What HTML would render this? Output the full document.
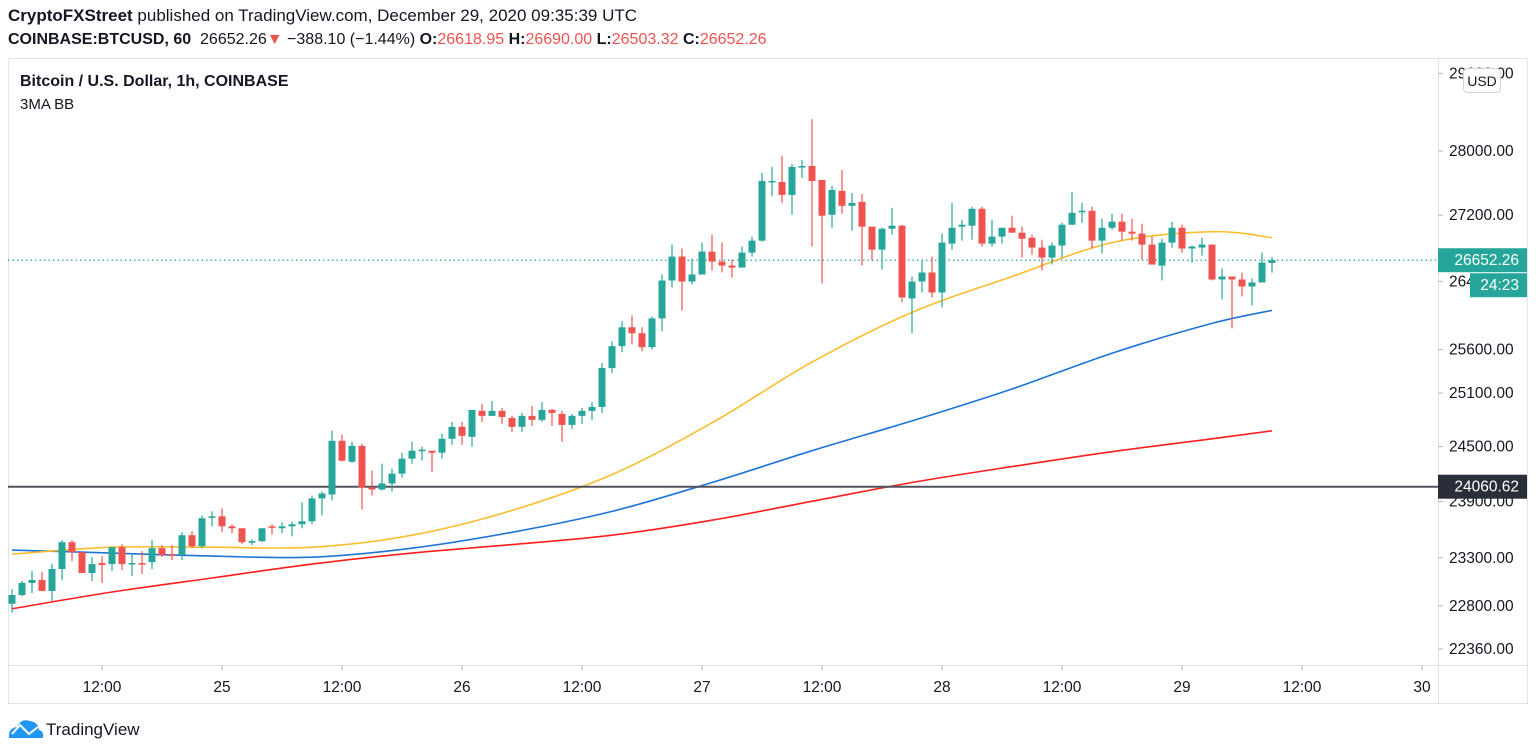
<!DOCTYPE html>
<html><head><meta charset="utf-8"><style>
html,body{margin:0;padding:0;background:#fff;width:1536px;height:753px;overflow:hidden;font-family:"Liberation Sans",sans-serif;}
.hdr{position:absolute;left:8px;color:#131722;white-space:nowrap;}
.red{color:#ef5350}
svg{position:absolute;left:0;top:0}
</style></head><body>
<div class="hdr" style="top:6px;font-size:17px"><b>CryptoFXStreet</b> published on TradingView.com, December 29, 2020 09:35:39 UTC</div>
<div class="hdr" style="top:31px;font-size:16px"><b>COINBASE:BTCUSD, 60</b>&nbsp; 26652.26<span class="red">▼</span> −388.10 (−1.44%) <b>O:</b><span class="red">26618.95</span> <b>H:</b><span class="red">26690.00</span> <b>L:</b><span class="red">26503.32</span> <b>C:</b><span class="red">26652.26</span></div>
<svg id="chart" width="1536" height="753" xmlns="http://www.w3.org/2000/svg"></svg>
<script>
const opens=[22821,22912,23037,23068,22954,23183,23465,23360,23141,23245,23234,23412,23234,23245,23255,23402,23339,23329,23539,23423,23730,23741,23634,23613,23465,23476,23634,23613,23634,23656,23688,23934,23976,24565,24334,24509,24053,24030,24096,24203,24367,24455,24455,24433,24587,24720,24609,24899,24843,24899,24820,24720,24843,24798,24910,24865,24742,24843,24899,24943,25385,25638,25857,25788,25626,25961,26409,26696,26397,26481,26756,26636,26588,26564,26744,26889,27611,27611,27450,27799,27811,27636,27205,27500,27315,27364,27059,26780,27034,27071,26196,26397,26505,26267,26853,27059,27071,27279,26853,26938,27046,26986,26924,26805,26684,26829,27083,27242,27254,26889,27046,27120,26998,26974,26841,26588,26865,27046,26793,26805,26841,26421,26457,26421,26338,26386,26618.95];
const highs=[22975,23058,23162,23151,23234,23486,23486,23360,23307,23318,23412,23444,23350,23371,23486,23433,23433,23570,23581,23751,23794,23826,23656,23613,23497,23613,23656,23677,23688,23891,23965,24009,24676,24631,24554,24532,24236,24312,24258,24433,24554,24498,24455,24643,24776,24776,24910,24977,25011,24932,24843,24876,24955,24999,24921,24899,24865,24932,24999,25442,25695,25927,25997,25857,25985,26481,26841,26793,26672,26865,26961,26865,26660,26817,26937,27724,27799,27937,27837,27887,28404,27636,27562,27762,27475,27462,27059,27046,27290,27083,26456,26648,26696,26974,27352,27144,27303,27303,27144,27046,27193,27059,26961,26901,26865,27107,27487,27352,27303,27156,27217,27217,27156,27095,26937,26912,27120,27083,26829,26924,26841,26552,26457,26505,26434,26744,26690];
const lows=[22729,22902,22933,22954,22851,23068,23266,23141,23058,23037,23162,23172,23110,23131,23183,23307,23276,23276,23402,23402,23634,23570,23560,23444,23433,23465,23549,23560,23528,23613,23656,23751,23912,24334,24323,23815,23965,24019,24009,24160,24312,24345,24225,24367,24520,24520,24498,24776,24843,24754,24665,24665,24731,24776,24731,24554,24698,24754,24798,24876,25327,25568,25660,25579,25602,25811,26327,26055,26362,26481,26528,26505,26444,26564,26696,26877,27438,27352,27205,27662,26817,26374,27046,27217,27010,26588,26648,26540,26961,26150,25788,26267,26208,26091,26780,26889,26901,26817,26817,26853,26986,26684,26720,26528,26600,26684,27083,27107,26793,26732,27022,26889,26889,26660,26600,26409,26805,26744,26624,26708,26409,26185,25845,26219,26115,26386,26503.32];
const closes=[22912,23037,23068,22954,23183,23465,23360,23141,23234,23224,23412,23234,23245,23234,23402,23329,23329,23539,23423,23720,23741,23634,23613,23465,23476,23613,23624,23634,23656,23688,23934,23987,24565,24345,24509,24053,24030,24096,24203,24367,24455,24466,24433,24587,24720,24620,24910,24843,24899,24831,24720,24843,24798,24910,24876,24742,24843,24899,24943,25385,25638,25857,25788,25626,25961,26409,26696,26397,26481,26756,26636,26588,26564,26744,26889,27624,27624,27450,27799,27811,27624,27193,27512,27315,27352,27059,26780,27034,27071,26208,26397,26505,26267,26865,27046,27083,27279,26853,26938,27046,26986,26912,26805,26684,26829,27083,27229,27254,26889,27046,27120,26998,26974,26841,26600,26865,27046,26793,26817,26841,26421,26457,26421,26338,26386,26624,26652.26];
// moving averages sampled every 10 bars (index 0..120) plus last bar 126
const maIdx=[0,10,20,30,40,50,60,70,80,90,100,110,120,126];
const maYellow=[23339,23412,23412,23412,23539,23805,24193,24765,25454,26032,26457,26865,26998,26925];
const maBlue=[23381,23350,23318,23307,23402,23570,23794,24106,24455,24787,25146,25556,25903,26055];
const maRed=[22770,22943,23089,23234,23350,23440,23539,23699,23902,24106,24280,24444,24587,24676];
const priceTicks=[29000,28000,27200,26400,25600,25100,24500,23900,23300,22800,22360];
const timeTicks=["12:00","25","12:00","26","12:00","27","12:00","28","12:00","29","12:00","30"];
const lastPrice=26652.26, levelPrice=24060.62;

const NS="http://www.w3.org/2000/svg";
const svg=document.getElementById('chart');
const PL=8,PR=1438,PT=58,PB=665,AR=1527,OB=703;
const yOf=p=>151+2214*(Math.log(28000)-Math.log(p));
const xOf=i=>12+10*i;
function mk(tag,attrs,parent){const e=document.createElementNS(NS,tag);for(const k in attrs)e.setAttribute(k,attrs[k]);(parent||svg).appendChild(e);return e;}

let g=mk('g',{});


mk('rect',{x:PL+.5,y:PT+.5,width:AR-PL,height:OB-PT,fill:'none',stroke:'#e0e3eb'},g);
mk('line',{x1:PR+.5,y1:PT,x2:PR+.5,y2:OB,stroke:'#e0e3eb'},g);
mk('line',{x1:PL,y1:PB+.5,x2:AR,y2:PB+.5,stroke:'#e0e3eb'},g);

const pa=mk('g',{});


priceTicks.forEach(p=>{const y=yOf(p);
  mk('line',{x1:PR,x2:PR+5,y1:y,y2:y,stroke:'#b2b5be'},pa);
  const t=mk('text',{x:1449,y:y+5,'font-size':'15.5','fill':'#131722'},pa);t.textContent=p.toFixed(2);
  
  
});
const ta=mk('g',{});


timeTicks.forEach((s,k)=>{const x=102+120*k;
  mk('line',{x1:x,x2:x,y1:PB,y2:PB+5,stroke:'#b2b5be'},ta);
  const t=mk('text',{x:x,y:692,'font-size':'15.5','fill':'#131722','text-anchor':'middle'},ta);t.textContent=s;
  
  
});

const lp=mk('line',{x1:PL,x2:PR,y1:yOf(lastPrice),y2:yOf(lastPrice),stroke:'#26a69a','stroke-dasharray':'1.5 3','stroke-width':1.3});



function maLine(vals,color,name){
  const P=maIdx.map((i,k)=>[xOf(i),yOf(vals[k])]);
  let d='M'+P[0][0]+','+P[0][1].toFixed(1);
  for(let k=0;k<P.length-1;k++){
    const p0=P[Math.max(0,k-1)],p1=P[k],p2=P[k+1],p3=P[Math.min(P.length-1,k+2)];
    const c1=[p1[0]+(p2[0]-p0[0])/6,p1[1]+(p2[1]-p0[1])/6];
    const c2=[p2[0]-(p3[0]-p1[0])/6,p2[1]-(p3[1]-p1[1])/6];
    d+=' C'+c1[0].toFixed(1)+','+c1[1].toFixed(1)+' '+c2[0].toFixed(1)+','+c2[1].toFixed(1)+' '+p2[0]+','+p2[1].toFixed(1);
  }
  const l=mk('path',{d:d,fill:'none',stroke:color,'stroke-width':1.6});
  
  }
maLine(maRed,'#ff1e1e','ma-red-line');
maLine(maBlue,'#1e74d6','ma-blue-line');
maLine(maYellow,'#fbbd2d','ma-yellow-line');

const lv=mk('line',{x1:PL,x2:PR,y1:yOf(levelPrice),y2:yOf(levelPrice),stroke:'#50535e','stroke-width':2});



const cg=mk('g',{});


for(let i=0;i<opens.length;i++){
  const up=closes[i]>=opens[i];const col=up?'#26a69a':'#ef5350';const x=xOf(i);
  const c=mk('g',{},cg);
  
  
  mk('line',{x1:x,x2:x,y1:yOf(highs[i]),y2:yOf(lows[i]),stroke:col,'stroke-width':1.2},c);
  const t=yOf(Math.max(opens[i],closes[i])),b=yOf(Math.min(opens[i],closes[i]));
  mk('rect',{x:x-3.5,y:t,width:7,height:Math.max(1.5,b-t),fill:col},c);
}

function tag(y,text,bg,name,x0,w){const gg=mk('g',{});
  
  
  mk('rect',{x:x0,y:y-12,width:w,height:24,fill:bg},gg);
  const t=mk('text',{x:x0+w-8,y:y+5,'font-size':'15.5',fill:'#fff','text-anchor':'end'},gg);t.textContent=text;}
tag(yOf(lastPrice),lastPrice.toFixed(2),'#26a69a','last-price-tag',PR,AR-PR);
tag(yOf(lastPrice)+25,'24:23','#26a69a','countdown-tag',1470,AR-1470);
tag(yOf(levelPrice),levelPrice.toFixed(2),'#2a2e39','level-price-tag',PR,AR-PR);

const ub=mk('g',{});


mk('rect',{x:1463.5,y:68.5,width:37,height:24,rx:4,fill:'#fff',stroke:'#d1d4dc'},ub);
const ut=mk('text',{x:1482,y:86,'font-size':'14',fill:'#131722','text-anchor':'middle'},ub);ut.textContent='USD';

const lg=mk('text',{x:20,y:86,'font-size':'16','font-weight':'bold',fill:'#131722'});lg.textContent='Bitcoin / U.S. Dollar, 1h, COINBASE';


const l2=mk('text',{x:20,y:109,'font-size':'15',fill:'#131722'});l2.textContent='3MA BB';



const lo=mk('g',{});


mk('path',{d:'M9 738 Q8 728 17 727 Q21 718 30 721 Q38 722 39 730 Q44 731 43 738 Z',fill:'#2196f3'},lo);
mk('polyline',{points:'12,734 20,725 29,734 38,727',fill:'none',stroke:'#fff','stroke-width':2},lo);
const lt=mk('text',{x:46,y:735,'font-size':'17',fill:'#131722'},lo);lt.textContent='TradingView';
</script>
</body></html>
